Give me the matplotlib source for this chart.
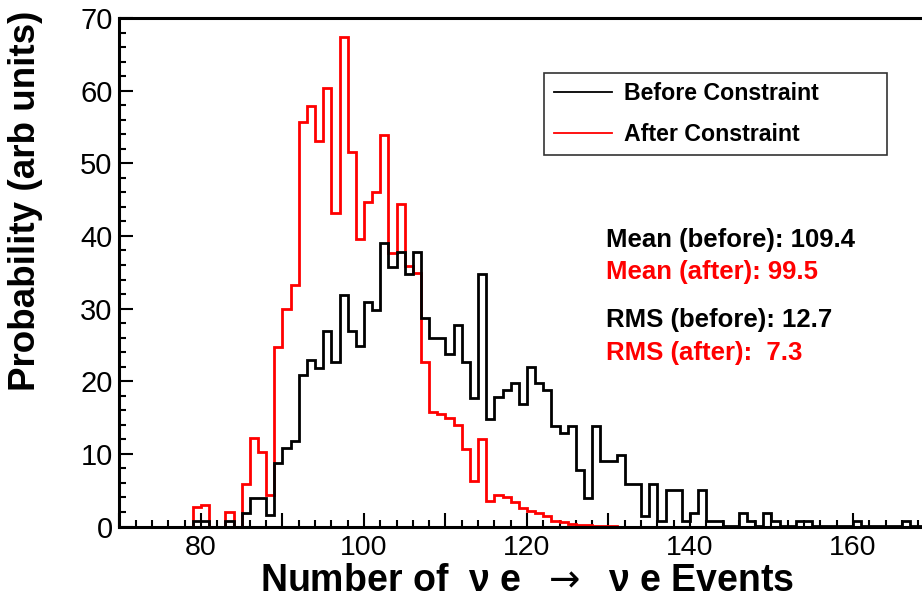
import numpy as np
import matplotlib
matplotlib.use("Agg")
import matplotlib.pyplot as plt
from matplotlib.ticker import MultipleLocator, FuncFormatter

plt.rcParams['font.family'] = ['Liberation Sans', 'DejaVu Sans']

# histogram bins: 1 event wide, from 70 to 170
bin_lo = 70
bin_hi = 170

# "Before Constraint" (black), bins 70..169
before = [0, 0, 0, 0, 0, 0, 0, 0, 0,
          0.7, 0.8, 0, 0, 0.7, 0, 1.8, 3.9, 3.9, 1.6,
          8.7, 10.8, 11.8, 20.8, 22.9, 21.8, 26.9, 22.7, 31.9, 26.9,
          24.9, 30.9, 29.8, 39.0, 35.7, 37.8, 34.7, 37.8, 28.7, 25.9,
          25.9, 23.8, 27.8, 22.7, 17.7, 34.8, 14.8, 17.8, 18.8, 19.8,
          16.9, 21.9, 19.8, 18.8, 13.9, 12.9, 13.9, 7.8, 3.9, 13.9,
          9.0, 9.0, 9.9, 5.8, 5.8, 1.5, 5.8, 0.8, 5.0, 5.0,
          0.8, 1.8, 5.0, 0.8, 0.8, 0.1, 0.1, 1.8, 0.8, 0.1,
          1.8, 0.8, 0.1, 0.1, 0.8, 0.8, 0.1, 0.1, 0.1, 0.1,
          0.1, 0.8, 0.1, 0.1, 0.1, 0.1, 0.1, 0.8, 0.1, 0.1, 0.1]

# "After Constraint" (red), bins 70..169
after = [0, 0, 0, 0, 0, 0, 0, 0, 0,
         2.7, 2.9, 0, 0, 2.0, 0, 5.8, 12.2, 10.3, 4.3,
         24.7, 29.9, 33.3, 55.7, 57.9, 53.0, 60.3, 43.2, 67.4, 51.5,
         39.6, 44.7, 46.1, 53.9, 37.7, 44.4, 35.8, 34.9, 22.7, 15.7,
         15.5, 14.9, 14.0, 10.6, 6.3, 12.1, 3.5, 4.4, 4.0, 3.4,
         2.5, 2.2, 1.9, 1.4, 0.8, 0.6, 0.3, 0.2, 0.2, 0.1,
         0.1, 0.1, 0, 0, 0, 0, 0, 0, 0, 0,
         0, 0, 0, 0, 0, 0, 0, 0, 0, 0,
         0, 0, 0, 0, 0, 0, 0, 0, 0, 0,
         0, 0, 0, 0, 0, 0, 0, 0, 0, 0, 0]

stats_lines = [("Mean (before): 109.4", "black"),
               ("Mean (after): 99.5", "red"),
               ("RMS (before): 12.7", "black"),
               ("RMS (after):  7.3", "red")]

edges = np.arange(bin_lo, bin_hi + 1)

fig = plt.figure(figsize=(9.22, 6.0), dpi=100)
ax = fig.add_axes([0.1296, 0.1225, 0.8839, 0.8475])

# red first so the black line sits on top where they overlap
h_after = ax.stairs(after[:len(edges) - 1], edges, color="red", lw=2.0, label="After Constraint", zorder=2)
h_before = ax.stairs(before[:len(edges) - 1], edges, color="black", lw=2.0, label="Before Constraint", zorder=3)

ax.set_xlim(70, 170)
ax.set_ylim(0, 70)

ax.xaxis.set_major_locator(MultipleLocator(10))
ax.xaxis.set_minor_locator(MultipleLocator(2))
ax.xaxis.set_major_formatter(FuncFormatter(lambda v, p: "%d" % v if int(round(v)) % 20 == 0 else ""))
ax.yaxis.set_major_locator(MultipleLocator(10))
ax.yaxis.set_minor_locator(MultipleLocator(2))

ax.tick_params(which="both", direction="in", top=False, right=False, width=1.5)
ax.tick_params(which="major", length=10)
ax.tick_params(which="minor", length=5)
ax.tick_params(axis="x", labelsize=20.5, pad=6)
ax.tick_params(axis="y", labelsize=21, pad=5)

for s in ["left", "bottom", "top"]:
    ax.spines[s].set_linewidth(2.2)
ax.spines["right"].set_visible(False)

ax.set_xlabel("Number of  \u03bd e  $\\rightarrow$  \u03bd e Events", fontsize=27, fontweight="bold")
ax.xaxis.label.set_va("baseline")
ax.xaxis.set_label_coords(0.5, -0.1275)
ax.set_ylabel("Probability (arb units)", fontsize=26.5, fontweight="bold")
ax.yaxis.set_label_coords(-0.094, 0.640)

leg = ax.legend(handles=[h_before, h_after], loc="upper left",
                bbox_to_anchor=(0.59, 0.779, 0.372, 0.1), bbox_transform=fig.transFigure,
                mode="expand", frameon=True, fancybox=False, edgecolor="black",
                fontsize=16.7, handlelength=2.5, handletextpad=0.55, borderpad=0.42,
                labelspacing=0.75, borderaxespad=0)
leg.get_frame().set_linewidth(1.2)
for t in leg.get_texts():
    t.set_fontweight("bold")
for h in leg.legend_handles:
    h.set_linewidth(1.3)

ys = [240, 271.7, 320, 353.3]
for (txt, col), y in zip(stats_lines, ys):
    fig.text(606 / 922, 1 - y / 600, txt, color=col, fontsize=18.5, fontweight="bold", va="center", ha="left")

fig.savefig("out.png", dpi=100)
